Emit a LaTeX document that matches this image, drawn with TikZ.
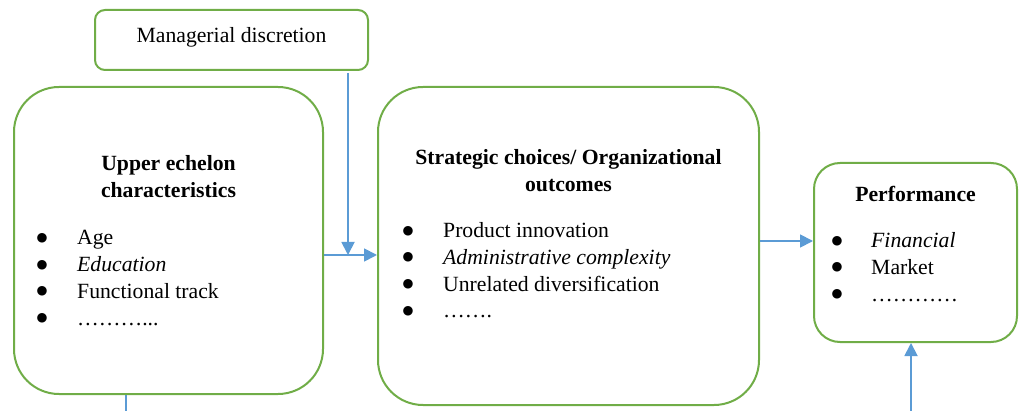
\documentclass[tikz,border=0pt]{standalone}
\usepackage{fontspec}
\setmainfont{Liberation Serif}
\newfontfamily\bulfont{DejaVu Sans}
\usetikzlibrary{arrows.meta}
\definecolor{boxgreen}{HTML}{70AD47}
\definecolor{arrowblue}{HTML}{5B9BD5}
\begin{document}
\begin{tikzpicture}[x=1pt,y=-1pt,
  box/.style={draw=boxgreen, line width=2pt, rounded corners=#1, inner sep=0pt, fill=white},
  txt/.style={font=\fontsize{21.7}{27}\selectfont, inner sep=0pt},
  ttl/.style={font=\fontsize{21.7}{27}\selectfont\bfseries, inner sep=0pt, anchor=base},
  bul/.style={font=\bulfont\fontsize{12.5}{13}\selectfont, inner sep=0pt, anchor=center, yshift=7pt},
  itm/.style={txt, anchor=base west},
  conn/.style={draw=arrowblue, line width=1.8pt, -{Triangle[length=13pt,width=13pt]}},
  plain/.style={draw=arrowblue, line width=1.8pt}
]
\useasboundingbox (0,0) rectangle (1019,411);
% boxes
\node[box=10pt, minimum width=273pt, minimum height=60pt] (md) at (231.5,40) {};
\node[box=45pt, minimum width=309pt, minimum height=307pt] (ue) at (168.5,240.5) {};
\node[box=45pt, minimum width=381pt, minimum height=318pt] (sc) at (568.5,246) {};
\node[box=26pt, minimum width=203pt, minimum height=179pt] (pf) at (915.5,252.5) {};
% managerial discretion
\node[txt, anchor=base] (mdt) at (231.5,43) {Managerial discretion};
% upper echelon
\node[ttl] (ue1) at (168.5,171) {Upper echelon};
\node[ttl] (ue2) at (168.5,198) {characteristics};
\node[bul] (ueb1) at (42,245) {●}; \node[itm] (uei1) at (77,245) {Age};
\node[bul] (ueb2) at (42,272) {●}; \node[itm] (uei2) at (77,272) {\itshape Education};
\node[bul] (ueb3) at (42,298.5) {●}; \node[itm] (uei3) at (77,298.5) {Functional track};
\node[bul] (ueb4) at (42,325.5) {●}; \node[itm] (uei4) at (77,325.5) {………...};
% strategic choices
\node[ttl] (sc1) at (568.5,165) {Strategic choices/ Organizational};
\node[ttl] (sc2) at (568.5,192) {outcomes};
\node[bul] (scb1) at (408,238) {●}; \node[itm] (sci1) at (443,238) {Product innovation};
\node[bul] (scb2) at (408,264.5) {●}; \node[itm] (sci2) at (443,264.5) {\itshape Administrative complexity};
\node[bul] (scb3) at (408,291.5) {●}; \node[itm] (sci3) at (443,291.5) {Unrelated diversification};
\node[bul] (scb4) at (408,318) {●}; \node[itm] (sci4) at (443,318) {…….};
% performance
\node[ttl] (pf1) at (915.5,202) {Performance};
\node[bul] (pfb1) at (837,248) {●}; \node[itm] (pfi1) at (871,248) {\itshape Financial};
\node[bul] (pfb2) at (837,274.5) {●}; \node[itm] (pfi2) at (871,274.5) {Market};
\node[bul] (pfb3) at (837,301.5) {●}; \node[itm] (pfi3) at (871,301.5) {…………};
% connectors
\coordinate (j) at (348,255);
\draw[conn] ([yshift=-2pt]md.south -| j) -- (j);
\draw[conn] (ue.east |- j) -- (sc.west |- j);
\coordinate (b1) at (126,411);
\draw[plain] (ue.south -| b1) -- (b1);
\coordinate (pa) at (0,241);
\draw[conn] (sc.east |- pa) -- (pf.west |- pa);
\coordinate (b2) at (911,411);
\draw[conn] (b2) -- (pf.south -| b2);
\end{tikzpicture}
\end{document}
